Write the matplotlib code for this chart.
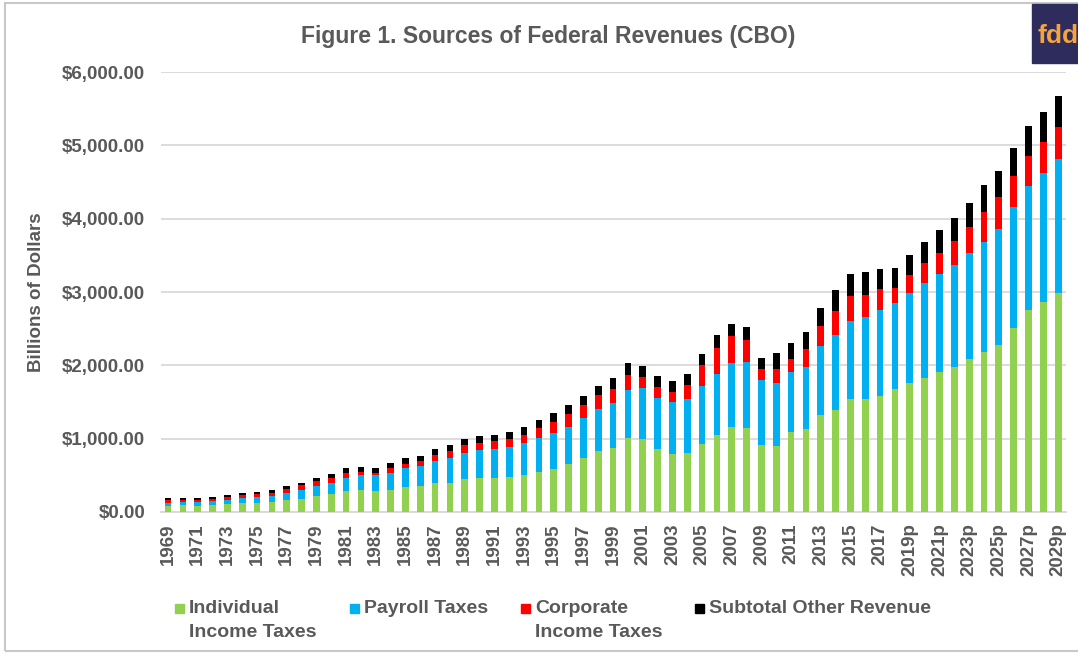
import matplotlib
matplotlib.use("Agg")
import matplotlib.pyplot as plt
import numpy as np
from matplotlib.patches import Rectangle
from matplotlib.ticker import FuncFormatter

# fiscal years, projections marked with "p"
years = [str(y) for y in range(1969, 2019)] + [f"{y}p" for y in range(2019, 2030)]

# billions of dollars
individual = [
    87.2, 90.4, 86.2, 94.7, 103.2, 119.0, 122.4, 131.6, 157.6, 181.0,
    217.8, 244.1, 285.9, 297.7, 288.9, 298.4, 334.5, 349.0, 392.6, 401.2,
    445.7, 466.9, 467.8, 476.0, 509.7, 543.1, 590.2, 656.4, 737.5, 828.6,
    879.5, 1004.5, 994.3, 858.3, 793.7, 809.0, 927.2, 1043.9, 1163.5, 1145.7,
    915.3, 898.5, 1091.5, 1132.2, 1316.4, 1394.6, 1540.8, 1546.1, 1587.1, 1683.5,
    1755, 1831, 1909, 1981, 2086, 2186, 2282, 2513, 2755, 2864, 2991,
]
payroll = [
    39.0, 44.4, 47.3, 52.6, 63.1, 75.1, 84.5, 90.8, 106.5, 121.0,
    138.9, 157.8, 182.7, 201.5, 209.0, 239.4, 265.2, 283.9, 303.3, 334.3,
    359.4, 380.0, 396.0, 413.7, 428.3, 461.5, 484.5, 509.4, 539.4, 571.8,
    611.8, 652.9, 694.0, 700.8, 713.0, 733.4, 794.1, 837.8, 869.6, 900.2,
    890.9, 864.8, 818.8, 845.3, 947.8, 1023.5, 1065.3, 1115.1, 1161.9, 1170.7,
    1236, 1288, 1337, 1387, 1446, 1500, 1577, 1642, 1691, 1755, 1827,
]
corporate = [
    36.7, 32.8, 26.8, 32.2, 36.2, 38.6, 40.6, 41.4, 54.9, 60.0,
    65.7, 64.6, 61.1, 49.2, 37.0, 56.9, 61.3, 63.1, 83.9, 94.5,
    103.3, 93.5, 98.1, 100.3, 117.5, 140.4, 157.0, 171.8, 182.3, 188.7,
    184.7, 207.3, 151.1, 148.0, 131.8, 189.4, 278.3, 353.9, 370.2, 304.3,
    138.2, 191.4, 181.1, 242.3, 273.5, 320.7, 343.8, 299.6, 297.0, 204.7,
    241, 277, 286, 328, 355, 405, 433, 427, 409, 431, 432,
]
other = [
    24.0, 25.2, 26.8, 27.8, 28.3, 30.5, 31.6, 34.3, 36.6, 37.6,
    40.9, 50.6, 69.6, 69.4, 65.7, 71.7, 73.0, 73.2, 74.5, 79.2,
    82.7, 91.6, 93.1, 101.2, 98.8, 113.6, 120.1, 115.5, 120.0, 132.6,
    151.5, 160.5, 151.7, 146.0, 143.8, 148.3, 154.0, 171.3, 164.7, 173.8,
    160.6, 208.0, 212.1, 230.2, 237.4, 282.7, 300.0, 307.2, 270.2, 271.0,
    277, 290, 309, 317, 327, 364, 354, 378, 405, 401, 427,
]

series_names = ["Individual\nIncome Taxes", "Payroll Taxes",
                "Corporate\nIncome Taxes", "Subtotal Other Revenue"]
series_colors = ["#92D050", "#00B0F0", "#FF0000", "#000000"]

TXT = "#595959"
GRID = "#D9D9D9"
W, H = 1078, 656

plt.rcParams["font.family"] = ["Liberation Sans", "DejaVu Sans"]
plt.rcParams["font.weight"] = "bold"

fig = plt.figure(figsize=(W / 100, H / 100), dpi=100)
ax = fig.add_axes([160.6 / W, 1 - 512 / H, 905 / W, 440 / H])

x = np.arange(len(years))
bottom = np.zeros(len(years))
for vals, color, name in zip([individual, payroll, corporate, other], series_colors, series_names):
    vals = np.array(vals, dtype=float)
    ax.bar(x, vals, width=0.45, bottom=bottom, color=color, label=name, zorder=3)
    bottom += vals

ax.set_xlim(-0.5, len(years) - 0.5)
ax.set_ylim(0, 6000)
ax.set_yticks(np.arange(0, 6001, 1000))
ax.yaxis.set_major_formatter(FuncFormatter(lambda v, p: f"${v:,.2f}"))
ax.set_xticks(x[::2])
ax.set_xticklabels(years[::2], rotation=90)

ax.grid(axis="y", color=GRID, linewidth=1.3, zorder=0)
for side in ["top", "right", "left"]:
    ax.spines[side].set_visible(False)
ax.spines["bottom"].set_color(GRID)
ax.spines["bottom"].set_linewidth(1.3)
ax.tick_params(axis="y", length=0, pad=11, labelsize=13.5, labelcolor=TXT)
ax.tick_params(axis="x", length=0, pad=8, labelsize=13.5, labelcolor=TXT)

ax.set_ylabel("Billions of Dollars", fontsize=13.5, color=TXT, fontweight="bold")
ax.yaxis.set_label_coords((45 - 160.6) / 905, 0.5)

fig.text(548 / W, 1 - 36 / H, "Figure 1. Sources of Federal Revenues (CBO)",
         ha="center", va="center", fontsize=16.5, color=TXT, fontweight="bold")

# legend drawn by hand so the swatch sits on the first line like in Excel
legend_x = [175, 350, 521, 695]
for lx, name, color in zip(legend_x, series_names, series_colors):
    fig.add_artist(Rectangle((lx / W, 1 - 613 / H), 9 / W, 9 / H,
                             transform=fig.transFigure, color=color))
    fig.text((lx + 14) / W, 1 - 600 / H, name, ha="left", va="top",
             fontsize=14, color=TXT, fontweight="bold", linespacing=1.55)

# outer chart frame
fig.add_artist(Rectangle((5 / W, 1 - 651 / H), 1200 / W, 648 / H, transform=fig.transFigure,
                         fill=False, edgecolor="#C8C8C8", linewidth=1.5))

# fdd logo corner
fig.add_artist(Rectangle((1032 / W, 1 - 63 / H), 60 / W, 59 / H, transform=fig.transFigure,
                         color="#2D2C5C", zorder=5))
fig.text(1037 / W, 1 - 36 / H, "fdd", ha="left", va="center", fontsize=19,
         color="#F5A33A", fontweight="bold", zorder=6)

fig.savefig("out.png", dpi=100)
